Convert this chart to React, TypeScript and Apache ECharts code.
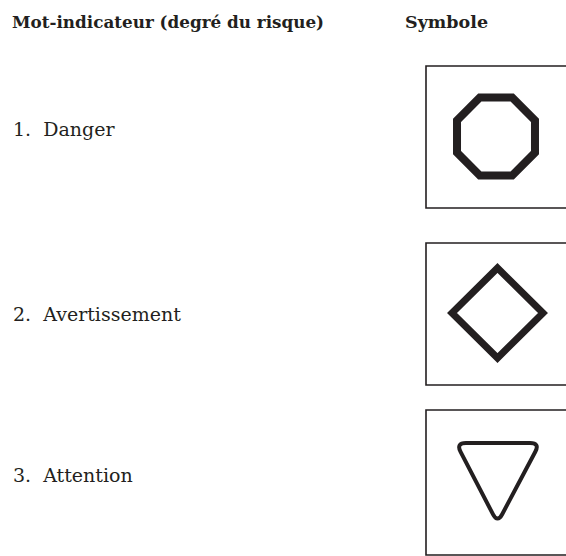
import React, { useEffect, useRef } from "react";
import * as echarts from "echarts";

const headerLabels = ["Mot-indicateur (degré du risque)", "Symbole"];
const signalWords = ["1.  Danger", "2.  Avertissement", "3.  Attention"];
const symbolKinds = ["octagon", "diamond", "triangle"];

const TRI_D =
  "M466 443 L530 443 Q540 443 535.3 451.8 L502.2 514.2 Q497.5 523 492.9 514.1 L460.6 451.9 Q456 443 466 443 Z";
echarts.graphic.registerShape("roundTri", echarts.graphic.extendPath(TRI_D, {}) as any);

function octagon(cx: number, cy: number, r: number) {
  const pts: number[][] = [];
  for (let k = 0; k < 8; k++) {
    const a = ((22.5 + 45 * k) * Math.PI) / 180;
    pts.push([cx + r * Math.cos(a), cy + r * Math.sin(a)]);
  }
  return pts;
}

export default function App() {
  const ref = useRef<HTMLDivElement>(null);
  useEffect(() => {
    const chart = echarts.init(ref.current!, null, { renderer: "svg" });
    const serif = "DejaVu Serif";
    const ink = "#231f20";
    const rowsY = [129, 314, 475];
    const boxes = [
      { top: 66, bottom: 208 },
      { top: 243, bottom: 385 },
      { top: 410, bottom: 555 },
    ];
    const elements: any[] = [
      {
        type: "text",
        x: 12,
        y: 22,
        style: {
          text: headerLabels[0],
          font: `bold 16.8px "${serif}"`,
          fill: ink,
          verticalAlign: "middle",
        },
      },
      {
        type: "text",
        x: 405,
        y: 22,
        style: {
          text: headerLabels[1],
          font: `bold 17.5px "${serif}"`,
          fill: ink,
          verticalAlign: "middle",
        },
      },
    ];
    signalWords.forEach((w, i) => {
      elements.push({
        type: "text",
        x: 13,
        y: rowsY[i],
        style: {
          text: w,
          font: `19px "${serif}"`,
          fill: ink,
          verticalAlign: "middle",
        },
      });
      const b = boxes[i];
      elements.push({
        type: "polyline",
        shape: {
          points: [
            [580, b.top],
            [426, b.top],
            [426, b.bottom],
            [580, b.bottom],
          ],
        },
        style: { stroke: ink, lineWidth: 1.6, fill: "none" },
      });
      const kind = symbolKinds[i];
      if (kind === "octagon") {
        elements.push({
          type: "polygon",
          shape: { points: octagon(496, 136.5, 42.2) },
          style: { stroke: ink, lineWidth: 8, fill: "none", lineJoin: "miter" },
        });
      } else if (kind === "diamond") {
        elements.push({
          type: "polygon",
          shape: {
            points: [
              [497.5, 268],
              [543, 313],
              [497.5, 358],
              [452, 313],
            ],
          },
          style: { stroke: ink, lineWidth: 7, fill: "none", lineJoin: "miter" },
        });
      } else {
        elements.push({
          type: "roundTri",
          x: 0,
          y: 0,
          style: { stroke: ink, lineWidth: 4, fill: "none" },
        });
      }
    });
    chart.setOption({
      animation: false,
      backgroundColor: "#ffffff",
      graphic: { elements },
    });
    return () => chart.dispose();
  }, []);
  return (
    <div
      ref={ref}
      style={{ position: "fixed", left: 0, top: 0, width: 566, height: 556 }}
    />
  );
}
